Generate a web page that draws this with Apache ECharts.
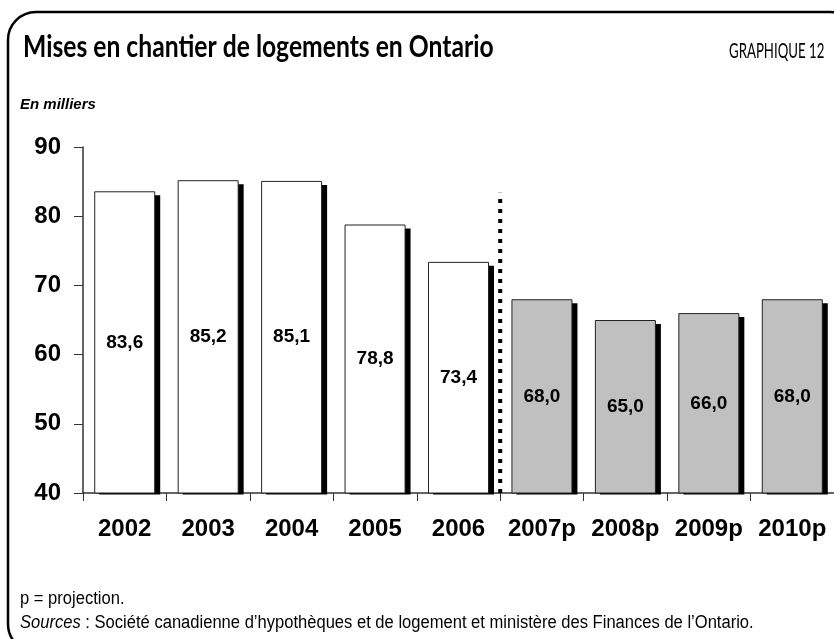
<!DOCTYPE html>
<html>
<head>
<meta charset="utf-8">
<script src="https://cdn.jsdelivr.net/npm/echarts@6/dist/echarts.min.js"></script>
<style>
  html, body { margin: 0; padding: 0; background: #fff; }
  #main { width: 834px; height: 639px; }
</style>
</head>
<body>
<div id="main"></div>
<script>
// données du graphique
var years = ['2002', '2003', '2004', '2005', '2006', '2007p', '2008p', '2009p', '2010p'];
var starts = [83.6, 85.2, 85.1, 78.8, 73.4, 68.0, 65.0, 66.0, 68.0];
var projected = [false, false, false, false, false, true, true, true, true];
var yTicks = [40, 50, 60, 70, 80, 90];
// ligne pointillée entre réel et projection
var dividerLine = [[5, 40], [5, 83.4]];

var chart = echarts.init(document.getElementById('main'));

var barData = starts.map(function (v, i) {
  return {
    value: v,
    itemStyle: { color: projected[i] ? '#c0c0c0' : '#ffffff' }
  };
});

// ombre noire décalée derrière chaque barre
function renderShadow(params, api) {
  var top = api.coord([api.value(0), api.value(1)]);
  var base = api.coord([api.value(0), yTicks[0]]);
  var w = 61;
  return {
    type: 'rect',
    shape: { x: top[0] - w / 2 + 5, y: top[1] + 4, width: w, height: base[1] - top[1] - 2.5 },
    style: { fill: '#000' }
  };
}

var option = {
  animation: false,
  graphic: [
    {
      type: 'rect',
      shape: { x: 8, y: 12, width: 850, height: 640, r: 28 },
      style: { fill: 'none', stroke: '#000', lineWidth: 2.5 },
      silent: true,
      z: -1
    },
    {
      type: 'text',
      x: 23, y: 62,
      scaleX: 0.796,
      style: {
        text: 'Mises en chantier de logements en Ontario',
        font: 'bold 31px Lato',
        fill: '#000',
        verticalAlign: 'bottom'
      }
    },
    {
      type: 'text',
      x: 729, y: 61.5,
      scaleX: 0.63,
      style: {
        text: 'GRAPHIQUE 12',
        font: '21px Lato',
        fill: '#000',
        verticalAlign: 'bottom'
      }
    },
    {
      type: 'text',
      x: 20, y: 112,
      style: {
        text: 'En milliers',
        font: 'italic bold 15px "Liberation Sans"',
        fill: '#000',
        verticalAlign: 'bottom'
      }
    },
    {
      type: 'text',
      x: 20, y: 608,
      scaleX: 0.92,
      style: {
        text: 'p = projection.',
        font: '18px "Liberation Sans"',
        fill: '#000',
        verticalAlign: 'bottom'
      }
    },
    {
      type: 'text',
      x: 20, y: 632,
      scaleX: 0.92,
      style: {
        text: '{i|Sources} : Société canadienne d\u2019hypothèques et de logement et ministère des Finances de l\u2019Ontario.',
        font: '18px "Liberation Sans"',
        fill: '#000',
        verticalAlign: 'bottom',
        rich: { i: { fontFamily: 'Liberation Sans', fontStyle: 'italic', fontSize: 18, fill: '#000' } }
      }
    }
  ],
  grid: { left: 83, top: 147, width: 756, height: 346 },
  xAxis: [
    {
      type: 'category',
      data: years,
      axisLine: { lineStyle: { color: '#333', width: 1.5 } },
      axisTick: { show: true, inside: false, length: 8, lineStyle: { color: '#333' } },
      axisLabel: {
        interval: 0,
        margin: 24, color: '#000', fontFamily: 'Liberation Sans',
        fontWeight: 'bold', fontSize: 24
      },
      splitLine: { show: false }
    },
    {
      type: 'value', min: 0, max: 9, show: false
    }
  ],
  yAxis: {
    type: 'value',
    min: yTicks[0], max: yTicks[yTicks.length - 1], interval: 10,
    axisLine: { show: true, lineStyle: { color: '#333', width: 1.5 } },
    axisTick: { show: true, inside: false, length: 9, lineStyle: { color: '#333' } },
    axisLabel: {
      margin: 22, color: '#000', fontFamily: 'Liberation Sans',
      fontWeight: 'bold', fontSize: 24
    },
    splitLine: { show: false }
  },
  series: [
    {
      type: 'custom',
      renderItem: renderShadow,
      data: starts.map(function (v, i) { return [i, v]; }),
      z: 1,
      silent: true
    },
    {
      type: 'bar',
      data: barData,
      barWidth: 61,
      z: 2,
      itemStyle: {
        borderColor: '#222',
        borderWidth: 1
      },
      label: {
        show: true,
        position: 'inside',
        color: '#000',
        fontFamily: 'Liberation Sans',
        fontWeight: 'bold',
        fontSize: 19,
        formatter: function (p) { return p.value.toFixed(1).replace('.', ','); }
      }
    },
    {
      type: 'line',
      xAxisIndex: 1,
      data: dividerLine,
      symbol: 'none',
      lineStyle: { color: '#000', width: 4, type: [4, 6] },
      z: 5
    }
  ]
};

chart.setOption(option);
</script>
</body>
</html>
